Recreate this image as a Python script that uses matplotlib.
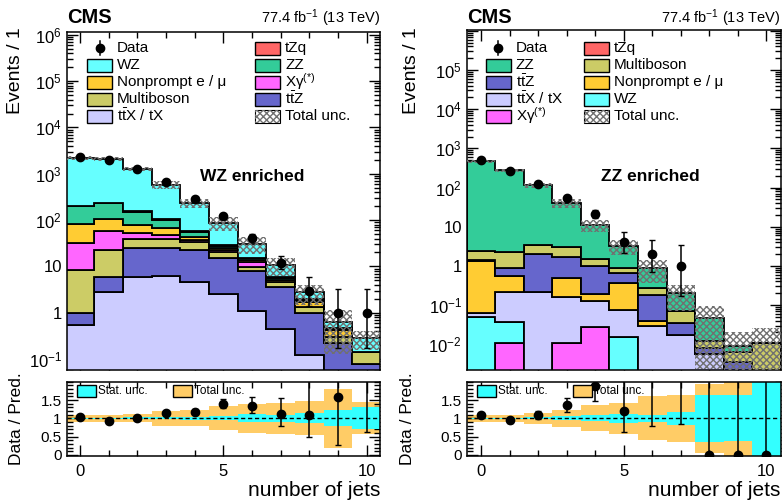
import numpy as np
import matplotlib
matplotlib.use('Agg')
import matplotlib.pyplot as plt
from matplotlib.patches import Rectangle
from matplotlib.lines import Line2D
from matplotlib.ticker import MultipleLocator, LogLocator, FuncFormatter, NullFormatter, FixedLocator

plt.rcParams['font.family'] = ['Liberation Sans', 'DejaVu Sans']
plt.rcParams['mathtext.fontset'] = 'custom'
plt.rcParams['mathtext.rm'] = 'Liberation Sans'
plt.rcParams['mathtext.it'] = 'Liberation Sans:italic'
plt.rcParams['mathtext.bf'] = 'Liberation Sans:bold'
plt.rcParams['hatch.color'] = '#707070'
plt.rcParams['hatch.linewidth'] = 1.0

# ---------------- data ----------------
n_jets = np.arange(11)

# WZ enriched region (stack order bottom -> top)
wz_order = ["ttX", "ttZ", "MB", "Xg", "NP", "ZZ", "tZq", "WZ"]
wz_ttX = [0.54, 2.75, 6.0, 6.3, 4.7, 2.5, 1.1, 0.44, 0.12, 0.03, 0.01]
wz_ttZ = [0.46, 3.25, 18.5, 18.2, 18.3, 12.9, 6.8, 3.16, 0.88, 0.19, 0.07]
wz_MB = [7.3, 16.5, 14.5, 15.5, 10.0, 4.6, 1.9, 0.9, 0.3, 0.08, 0.06]
wz_Xg = [23.7, 35.5, 13.0, 7.0, 4.0, 2.5, 2.8, 0.2, 0.0, 0.0, 0.0]
wz_NP = [50, 49, 26, 19, 7.0, 2.5, 0.9, 0.5, 0.4, 0.12, 0.0]
wz_ZZ = [118, 123, 74, 34, 12, 2.5, 1.5, 0.4, 0.2, 0.03, 0.0]
wz_tZq = [1.0, 2.0, 3.0, 3.0, 2.0, 1.0, 0.5, 0.2, 0.05, 0.01, 0.0]
wz_WZ = [2030, 1855, 1108, 474, 179, 59, 15.7, 4.9, 0.8, 0.17, 0.14]
wz_data = [2330, 1960, 1260, 660, 280, 122, 42, 12, 3, 1, 1]
wz_tot_unc = [0.10, 0.10, 0.11, 0.20, 0.22, 0.33, 0.40, 0.42, 0.46, 0.80, 0.44]
wz_stat_unc = [0.02, 0.02, 0.025, 0.03, 0.04, 0.05, 0.11, 0.09, 0.14, 0.22, 0.30]

# ZZ enriched region (stack order bottom -> top)
zz_order = ["Xg", "WZ", "ttX", "NP", "ttZ", "MB", "tZq", "ZZ"]
zz_Xg = [0.0, 0.011, 0.0, 0.011, 0.028, 0.0, 0.0, 0.0, 0.0, 0.0, 0.0]
zz_WZ = [0.049, 0.026, 0.0, 0.0, 0.0, 0.0155, 0.0, 0.0, 0.0, 0.0, 0.0]
zz_ttX = [0.015, 0.173, 0.21, 0.149, 0.099, 0.0575, 0.029, 0.017, 0.0055, 0.0, 0.0]
zz_NP = [1.276, 0.34, 0.0, 0.34, 0.063, 0.297, 0.011, 0.0, 0.0, 0.0, 0.0]
zz_ttZ = [0.04, 0.35, 1.79, 1.2, 0.78, 0.30, 0.14, 0.018, 0.0025, 0.0035, 0.0]
zz_MB = [1.02, 1.4, 1.45, 1.37, 0.51, 0.23, 0.10, 0.035, 0.004, 0.0028, 0.011]
zz_tZq = [0.02, 0.02, 0.02, 0.01, 0.01, 0.005, 0.0, 0.0, 0.0, 0.0, 0.0]
zz_ZZ = [467.6, 270.7, 110.5, 36.9, 9.7, 2.4, 0.62, 0.13, 0.036, 0.0028, 0.0]
zz_data = [510, 257, 124, 54, 21, 4, 2, 1, 0, 0, 0]
zz_tot_unc = [0.10, 0.10, 0.15, 0.24, 0.36, 0.42, 0.60, 0.65, 0.95, 1.30, 1.30]
zz_stat_unc = [0.02, 0.02, 0.03, 0.05, 0.08, 0.12, 0.09, 0.18, 0.65, 0.63, 1.50]

labels = {
    "Data": "Data",
    "WZ": "WZ",
    "NP": "Nonprompt e / \u03bc",
    "MB": "Multiboson",
    "ttX": r"t$\bar{\mathrm{t}}$X / tX",
    "tZq": "tZq",
    "ZZ": "ZZ",
    "Xg": "X\u03b3$^{(*)}$",
    "ttZ": r"t$\bar{\mathrm{t}}$Z",
}
colors = {
    "WZ": "#66ffff",
    "NP": "#ffcc33",
    "MB": "#cccc66",
    "ttX": "#ccccff",
    "tZq": "#ff6666",
    "ZZ": "#33cc99",
    "Xg": "#ff66ff",
    "ttZ": "#6666cc",
}
unc_total_color = "#ffcc66"
unc_stat_color = "#33ffff"

wz_vals = dict(ttX=wz_ttX, ttZ=wz_ttZ, MB=wz_MB, Xg=wz_Xg, NP=wz_NP, ZZ=wz_ZZ, tZq=wz_tZq, WZ=wz_WZ)
zz_vals = dict(Xg=zz_Xg, WZ=zz_WZ, ttX=zz_ttX, NP=zz_NP, ttZ=zz_ttZ, MB=zz_MB, tZq=zz_tZq, ZZ=zz_ZZ)

W, H = 782, 503
fig = plt.figure(figsize=(W / 100, H / 100), dpi=100)


def fr(x0, y0, x1, y1):
    return [x0 / W, 1 - y1 / H, (x1 - x0) / W, (y1 - y0) / H]


def gehrels(n):
    n = np.asarray(n, float)
    up = n + np.sqrt(n + 0.75) + 1.0
    nn = np.maximum(n, 1e-9)
    low = np.where(n > 0, nn * (1 - 1 / (9 * nn) - 1 / (3 * np.sqrt(nn))) ** 3, 0.0)
    return n - low, up - n


def logfmt(hide=()):
    def f(v, pos):
        e = int(round(np.log10(v)))
        if e in hide:
            return ""
        if e == 0:
            return "1"
        if e == 1:
            return "10"
        return r"$10^{%d}$" % e
    return FuncFormatter(f)


def style_axes(ax, size=12):
    ax.tick_params(which='both', direction='in', top=True, right=True, labelsize=size)
    ax.tick_params(which='major', length=8, width=1)
    ax.tick_params(which='minor', length=4, width=1)
    for s in ax.spines.values():
        s.set_linewidth(1.1)


def draw(ax, rax, order, vals, data, tot_unc, stat_unc, xlim, ylim, hide):
    edges = np.arange(len(n_jets) + 1) - 0.5
    floor = 1e-6
    bottom = np.full(len(n_jets), floor)
    for key in order:
        v = np.asarray(vals[key], float)
        top = bottom + v
        ax.stairs(top, edges, baseline=bottom, fill=True, facecolor=colors[key],
                  edgecolor='black', linewidth=1.3, zorder=2)
        bottom = top
    total = bottom - floor
    tu = np.asarray(tot_unc)
    su = np.asarray(stat_unc)
    lo = np.clip(total * (1 - tu), floor, None)
    hi = total * (1 + tu)
    ax.stairs(hi, edges, baseline=lo, fill=True, facecolor='none', hatch='xxxxx',
              edgecolor='#707070', linewidth=0, zorder=3)
    d = np.asarray(data, float)
    elo, ehi = gehrels(d)
    m = d > 0
    ax.errorbar(n_jets[m], d[m], yerr=[elo[m], ehi[m]], fmt='o', color='black', ms=6,
                elinewidth=1.1, capsize=2, capthick=1, zorder=5)
    ax.set_yscale('log')
    ax.set_xlim(*xlim)
    ax.set_ylim(*ylim)
    ax.yaxis.set_major_locator(LogLocator(base=10, numticks=30))
    ax.yaxis.set_minor_locator(LogLocator(base=10, subs=np.arange(2, 10), numticks=30))
    ax.yaxis.set_major_formatter(logfmt(hide))
    ax.yaxis.set_minor_formatter(NullFormatter())
    ax.xaxis.set_major_locator(FixedLocator([0, 5, 10]))
    ax.xaxis.set_minor_locator(MultipleLocator(1))
    ax.tick_params(labelbottom=False)
    style_axes(ax, 12)

    # ratio panel
    rax.stairs(1 + tu, edges, baseline=1 - tu, fill=True, facecolor=unc_total_color,
               edgecolor='none', linewidth=0, zorder=1)
    rax.stairs(1 + su, edges, baseline=1 - su, fill=True, facecolor=unc_stat_color,
               edgecolor='none', linewidth=0, zorder=2)
    rax.axhline(1.0, color='black', ls=(0, (3, 2)), lw=1.0, zorder=3)
    r = d / total
    rax.errorbar(n_jets, r, yerr=[elo / total, ehi / total], fmt='o', color='black', ms=6,
                 elinewidth=1.1, capsize=2, capthick=1, zorder=5)
    rax.set_xlim(*xlim)
    rax.set_ylim(-0.03, 2.0)
    rax.yaxis.set_major_locator(FixedLocator([0, 0.5, 1, 1.5]))
    rax.yaxis.set_major_formatter(FuncFormatter(lambda v, p: "%g" % v))
    rax.yaxis.set_minor_locator(MultipleLocator(0.1))
    rax.xaxis.set_major_locator(FixedLocator([0, 5, 10]))
    rax.xaxis.set_minor_locator(MultipleLocator(1))
    style_axes(rax, 11)
    rax.tick_params(axis='x', which='major', pad=6, labelsize=12)


axL = fig.add_axes(fr(66.7, 32, 380, 370))
rL = fig.add_axes(fr(66.7, 381.7, 380, 456))
axR = fig.add_axes(fr(466.7, 30, 780.7, 370))
rR = fig.add_axes(fr(466.7, 381.7, 780.7, 456))

draw(axL, rL, wz_order, wz_vals, wz_data, wz_tot_unc, wz_stat_unc, (-0.46, 10.46), (0.058, 1.15e6), ())
draw(axR, rR, zz_order, zz_vals, zz_data, zz_tot_unc, zz_stat_unc, (-0.5, 10.5), (2.2e-3, 1.05e6), (6,))


def ftext(x, y, s, **kw):
    fig.text(x / W, 1 - y / H, s, **kw)


def legend_box(x, y, w, h, fc, hatch=None):
    if hatch:
        fig.add_artist(Rectangle((x / W, 1 - (y + h / 2) / H), w / W, h / H, transform=fig.transFigure,
                                 facecolor='white', edgecolor='black', lw=0.8))
        fig.add_artist(Rectangle((x / W, 1 - (y + h / 2) / H), w / W, h / H, transform=fig.transFigure,
                                 facecolor='none', hatch=hatch, edgecolor='#707070', lw=0))
    else:
        fig.add_artist(Rectangle((x / W, 1 - (y + h / 2) / H), w / W, h / H, transform=fig.transFigure,
                                 facecolor=fc, edgecolor='black', lw=1.0))


def data_marker(x, y):
    fig.add_artist(Line2D([x / W, x / W], [1 - (y - 7) / H, 1 - (y + 7) / H], transform=fig.transFigure,
                          color='black', lw=1.1))
    fig.add_artist(Line2D([x / W], [1 - y / H], transform=fig.transFigure, marker='o', ms=6,
                          color='black', lw=0))


def main_legend(col1, col2, x1, x2, rows):
    for keys, x in ((col1, x1), (col2, x2)):
        for key, y in zip(keys, rows):
            if key == "Data":
                data_marker(x + 12.5, y)
                ftext(x + 30, y, "Data", fontsize=11, va='center', ha='left')
            elif key == "Unc":
                legend_box(x, y, 25, 13, None, hatch='xxxxx')
                ftext(x + 30, y, "Total unc.", fontsize=11, va='center', ha='left')
            else:
                legend_box(x, y, 25, 13, colors[key])
                ftext(x + 30, y, labels[key], fontsize=11, va='center', ha='left')


rows = [48, 65, 82, 99, 116]
main_legend(["Data", "WZ", "NP", "MB", "ttX"], ["tZq", "ZZ", "Xg", "ttZ", "Unc"], 87, 255, rows)
main_legend(["Data", "ZZ", "ttZ", "ttX", "Xg"], ["tZq", "MB", "NP", "WZ", "Unc"], 486, 584, rows)

# ratio legends
for xo in (77, 477):
    legend_box(xo, 391, 19, 12, unc_stat_color)
    ftext(xo + 21, 391, "Stat. unc.", fontsize=8.5, va='center', ha='left')
    legend_box(xo + 96, 391, 19, 12, unc_total_color)
    ftext(xo + 117, 391, "Total unc.", fontsize=8.5, va='center', ha='left')

# titles
ftext(67, 23, "CMS", fontsize=14.5, fontweight='bold', ha='left', va='baseline')
ftext(380, 23, r"77.4 fb$^{-1}$ (13 TeV)", fontsize=10.5, ha='right', va='baseline')
ftext(467, 23, "CMS", fontsize=14.5, fontweight='bold', ha='left', va='baseline')
ftext(780, 23, r"77.4 fb$^{-1}$ (13 TeV)", fontsize=10.5, ha='right', va='baseline')

ftext(252, 177, "WZ enriched", fontsize=12.5, fontweight='bold', ha='center', va='center')
ftext(650, 177, "ZZ enriched", fontsize=12.5, fontweight='bold', ha='center', va='center')

# axis labels
ftext(16, 27, "Events / 1", fontsize=14, rotation=90, ha='center', va='top')
ftext(411, 27, "Events / 1", fontsize=14, rotation=90, ha='center', va='top')
ftext(17, 419, "Data / Pred.", fontsize=12.5, rotation=90, ha='center', va='center')
ftext(407, 419, "Data / Pred.", fontsize=12.5, rotation=90, ha='center', va='center')
ftext(380, 490, "number of jets", fontsize=15, ha='right', va='center')
ftext(780, 490, "number of jets", fontsize=15, ha='right', va='center')

fig.savefig("out.png", dpi=100)
